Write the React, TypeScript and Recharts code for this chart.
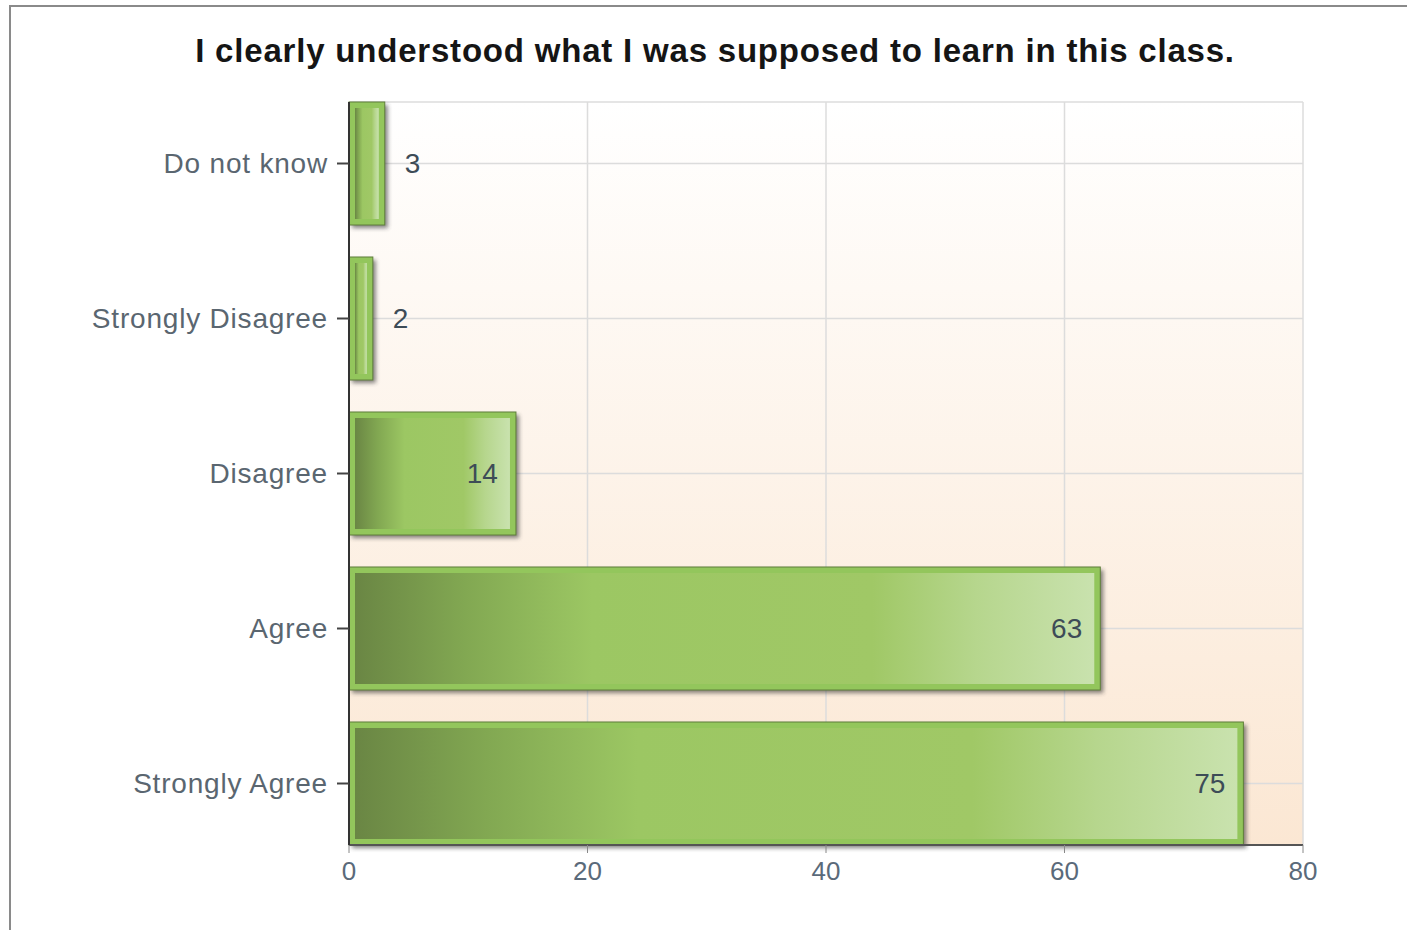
import { BarChart, Bar, XAxis, YAxis, CartesianGrid, LabelList } from 'recharts';

const categories = ['Do not know', 'Strongly Disagree', 'Disagree', 'Agree', 'Strongly Agree'];
const counts = [3, 2, 14, 63, 75];
const xTicks = [0, 20, 40, 60, 80];

const data = categories.map((label, i) => ({ label, count: counts[i] }));

const FONT = '"Liberation Sans", Arial, sans-serif';

function GreenBar(props: any) {
  const { x, y, width, height } = props;
  if (!width || width <= 0) return null;
  const inset = width > 20 ? 6 : 3;
  return (
    <g>
      <rect x={x + 3} y={y + 3} width={width} height={height} fill="#333" opacity={0.6} filter="url(#barShadow)" />
      <rect x={x} y={y} width={width} height={height} fill="#93c65c" stroke="#5f7f3a" strokeWidth={1} />
      <rect
        x={x + inset}
        y={y + inset}
        width={Math.max(width - inset * 2, 1)}
        height={height - inset * 2}
        fill="url(#barGrad)"
      />
    </g>
  );
}

function ValueLabel(props: any) {
  const { x, y, width, height, value } = props;
  const inside = value >= 5;
  return (
    <text
      x={inside ? x + width - 18 : x + width + 20}
      y={y + height / 2}
      dy="0.35em"
      textAnchor={inside ? 'end' : 'start'}
      fill="#3d4c57"
      fontSize={28}
      fontFamily={FONT}
    >
      {value}
    </text>
  );
}

export default function App() {
  return (
    <div style={{ position: 'absolute', left: 0, top: 0, width: 1407, height: 930, overflow: 'hidden', background: '#fff' }}>
      <div
        style={{
          position: 'absolute',
          left: 9,
          top: 5,
          width: 1500,
          height: 1100,
          border: '2px solid #8a8a8a',
        }}
      />
      <div
        style={{
          position: 'absolute',
          left: 0,
          top: 32,
          width: 1430,
          textAlign: 'center',
          fontFamily: FONT,
          fontWeight: 'bold',
          fontSize: 33,
          letterSpacing: 0.8,
          color: '#151515',
        }}
      >
        I clearly understood what I was supposed to learn in this class.
      </div>
      <div style={{ position: 'absolute', left: 0, top: 0 }}>
        <BarChart
          width={1407}
          height={930}
          data={data}
          layout="vertical"
          margin={{ top: 102, right: 104, bottom: 55, left: 0 }}
        >
          <defs>
            <linearGradient id="bgGrad" x1="0" y1="0" x2="0" y2="1">
              <stop offset="0%" stopColor="#ffffff" />
              <stop offset="100%" stopColor="#fbe7d3" />
            </linearGradient>
            <linearGradient id="barGrad" x1="0" y1="0" x2="1" y2="0">
              <stop offset="0%" stopColor="#6a8644" />
              <stop offset="15%" stopColor="#82a852" />
              <stop offset="32%" stopColor="#9cc763" />
              <stop offset="70%" stopColor="#a0c866" />
              <stop offset="84%" stopColor="#b6d68d" />
              <stop offset="100%" stopColor="#c9e2ae" />
            </linearGradient>
            <filter id="barShadow" x="-20%" y="-20%" width="140%" height="140%">
              <feGaussianBlur stdDeviation="2" />
            </filter>
          </defs>
          <CartesianGrid stroke="#dcdcdc" strokeWidth={1.5} fill="url(#bgGrad)" fillOpacity={1} />
          <XAxis
            type="number"
            domain={[0, 80]}
            ticks={xTicks}
            height={30}
            tickSize={8}
            tickMargin={9}
            axisLine={{ stroke: '#555', strokeWidth: 2 }}
            tickLine={{ stroke: '#888' }}
            tick={{ fill: '#5a6a7a', fontSize: 26, fontFamily: FONT }}
          />
          <YAxis
            type="category"
            dataKey="label"
            width={349}
            padding={{ top: -16, bottom: -16 }}
            tickSize={12}
            tickMargin={9}
            axisLine={{ stroke: '#333', strokeWidth: 2 }}
            tickLine={{ stroke: '#444', strokeWidth: 2 }}
            tick={{ fill: '#5a6670', fontSize: 28, fontFamily: FONT, letterSpacing: 0.8 }}
          />
          <Bar dataKey="count" barSize={123} shape={GreenBar} isAnimationActive={false}>
            <LabelList dataKey="count" content={ValueLabel} />
          </Bar>
        </BarChart>
      </div>
    </div>
  );
}
